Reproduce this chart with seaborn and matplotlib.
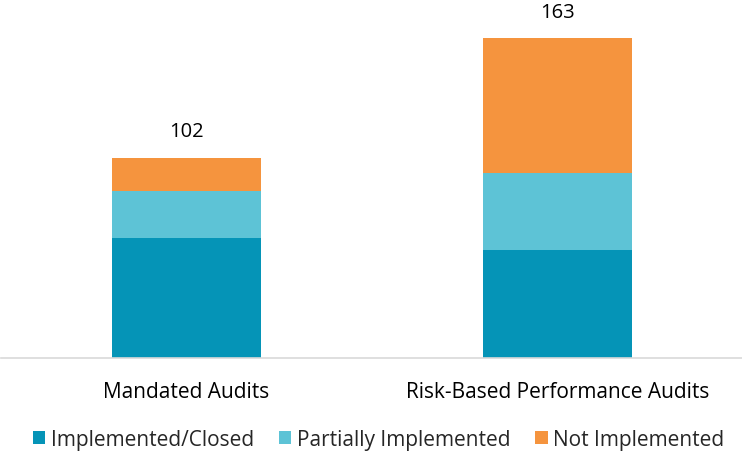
import matplotlib
matplotlib.use("Agg")
import matplotlib.pyplot as plt
import seaborn as sns
import pandas as pd
import numpy as np
from matplotlib.patches import Patch

# Audit recommendation status counts
categories = ["Mandated Audits", "Risk-Based Performance Audits"]
implemented = [61, 55]
partially = [24, 39]
not_implemented = [17, 69]
series_names = ["Implemented/Closed", "Partially Implemented", "Not Implemented"]
colors = ["#0594B7", "#5DC3D6", "#F5943E"]

sns.set_theme(style="white")
plt.rcParams["font.family"] = ["Open Sans", "DejaVu Sans"]

fig = plt.figure(figsize=(7.42, 4.52), dpi=100)
ax = fig.add_axes([0.0015, 0.2065, 1.0, 0.7935])

impl = np.array(implemented)
part = np.array(partially)
noti = np.array(not_implemented)
totals = impl + part + noti

# Stacked bars drawn as cumulative layers, tallest first
layers = [totals, impl + part, impl]
layer_colors = [colors[2], colors[1], colors[0]]
for vals, col in zip(layers, layer_colors):
    df = pd.DataFrame({"category": categories, "value": vals})
    sns.barplot(data=df, x="category", y="value", color=col, width=0.4,
                saturation=1, ax=ax, linewidth=0)

for i, t in enumerate(totals):
    ax.annotate(f"{t}", xy=(i, t), xytext=(0, 19), textcoords="offset points",
                ha="center", va="center", fontsize=14.5, color="#000000")

ax.set_xlim(-0.5, 1.5)
ax.set_ylim(0, 183)
ax.set_xlabel("")
ax.set_ylabel("")
ax.set_yticks([])
ax.tick_params(axis="x", length=0, labelsize=15, pad=17, colors="#000000")
for s in ["top", "left", "right"]:
    ax.spines[s].set_visible(False)
ax.spines["bottom"].set_color("#D9D9D9")
ax.spines["bottom"].set_linewidth(1.2)

handles = [Patch(facecolor=c, edgecolor="none", label=n) for c, n in zip(colors, series_names)]
fig.legend(handles=handles, loc="center", bbox_to_anchor=(0.51, 0.025), ncol=3,
           frameon=False, fontsize=15, handlelength=0.6, handleheight=0.6,
           handletextpad=0.25, columnspacing=1.2)

fig.savefig("out.png", dpi=100)
